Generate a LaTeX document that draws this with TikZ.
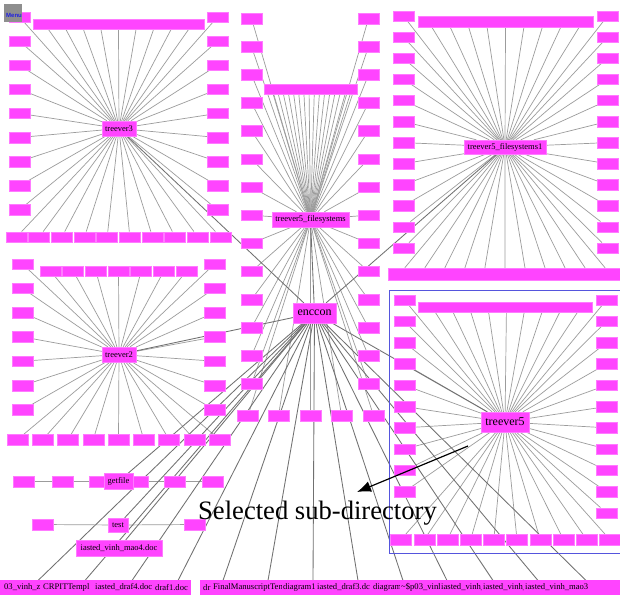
\documentclass[tikz,border=0pt]{standalone}
\usepackage{fontspec}
\setmainfont{Liberation Serif}
\newfontfamily\menufont{Liberation Sans}
\usetikzlibrary{calc,backgrounds,arrows.meta}
\definecolor{pk}{HTML}{FF44FF}
\definecolor{pkedge}{HTML}{FF7BFF}
\definecolor{ln}{HTML}{9C9C9C}
\definecolor{lnd}{HTML}{707070}
\definecolor{menugray}{HTML}{8E8E8E}
\definecolor{menublue}{HTML}{2020E0}
\definecolor{selblue}{HTML}{5555DD}
\tikzset{
  leaf/.style={fill=pk, draw=pkedge, line width=0.4pt, minimum width=21pt, minimum height=10.5pt, inner sep=0pt},
  pinkbar/.style={fill=pk, draw=pkedge, line width=0.4pt, inner sep=0pt},
  hub/.style={fill=pk, draw=pkedge, line width=0.4pt, inner sep=0pt, text=black, font=\fontsize{8.5}{9}\selectfont},
  bighub/.style={hub, font=\fontsize{12}{13}\selectfont},
  link/.style={draw=ln, line width=0.7pt},
  toplink/.style={draw=lnd, line width=0.85pt},
  filenode/.style={fill=pk, anchor=west, inner xsep=1pt, inner ysep=0pt, minimum height=15pt, font=\fontsize{8.6}{9}\selectfont},
}
\begin{document}
\begin{tikzpicture}[x=1pt,y=-1pt]
\useasboundingbox (0,0) rectangle (620,596);

% ---------- treever3 ----------
\node[pinkbar, minimum width=171pt, minimum height=10pt] (t3bar) at (118.5,24) {};
\foreach \k in {0,...,8} {
  \node[leaf] (t3L\k) at (19.5,{17+24.1*\k}) {};
  \node[leaf] (t3R\k) at (217.5,{17+24.1*\k}) {};
}
\foreach \k in {0,...,9} \node[leaf] (t3B\k) at ({16.5+22.67*\k},237) {};
\node[hub, minimum width=34pt, minimum height=15pt] (t3) at (119,128.5) {treever3};

% ---------- treever2 ----------
\foreach \k in {0,...,6} {
  \node[leaf] (t2L\k) at (22.5,{264+24.3*\k}) {};
  \node[leaf] (t2R\k) at (214.5,{264+24.3*\k}) {};
  \node[leaf] (t2T\k) at ({50.5+22.67*\k},271) {};
}
\foreach \k in {0,...,8} \node[leaf] (t2B\k) at ({17.5+25.25*\k},439.5) {};
\node[hub, minimum width=34pt, minimum height=15pt] (t2) at (119,354.5) {treever2};

% ---------- treever5_filesystems ----------
\node[pinkbar, minimum width=93pt, minimum height=10pt] (tfbar) at (310.5,89) {};
\foreach \k in {0,...,13} {
  \node[leaf] (tfL\k) at (251.5,{18.5+28.1*\k}) {};
  \node[leaf] (tfR\k) at (368.5,{18.5+28.1*\k}) {};
}
\foreach \x [count=\k] in {248,278.5,310.5,341.5,373.5} \node[leaf] (tfB\k) at (\x,415.5) {};
\node[hub, minimum width=77pt, minimum height=15pt] (tf) at (310.5,219.5) {treever5\_filesystems};

% ---------- treever5_filesystems1 ----------
\node[pinkbar, minimum width=175pt, minimum height=11pt] (tf1top) at (505.5,21.5) {};
\node[pinkbar, minimum width=232pt, minimum height=12pt] (tf1bot) at (504,274) {};
\foreach \k in {0,...,11} {
  \node[leaf] (tf1L\k) at (403.5,{16+21.1*\k}) {};
  \node[leaf] (tf1R\k) at (607.5,{16+21.1*\k}) {};
}
\node[hub, minimum width=82pt, minimum height=14pt] (tf1) at (505,147) {treever5\_filesystems1};

% ---------- treever5 (selected) ----------
\draw[selblue, line width=0.8pt] (389.5,290.5) rectangle (621,553);
\node[pinkbar, minimum width=174pt, minimum height=10pt] (t5bar) at (505,307) {};
\foreach \k in {0,...,9} \node[leaf] (t5L\k) at (404.5,{300+21.3*\k}) {};
\foreach \k in {0,...,10} \node[leaf] (t5R\k) at (606.5,{300+21.3*\k}) {};
\foreach \k in {0,...,9} \node[leaf] (t5B\k) at ({401+23.2*\k},539.5) {};
\node[bighub, minimum width=48pt, minimum height=20pt] (t5) at (505,422) {treever5};

% ---------- enccon ----------
\node[bighub, minimum width=43pt, minimum height=20pt] (enc) at (314.5,313) {enccon};

% ---------- getfile / test / mao4 ----------
\foreach \x [count=\k] in {24,62.5,99.5,137.5,174.5,212.5} \node[leaf] (gfB\k) at (\x,481.5) {};
\node[hub, minimum width=29pt, minimum height=16pt] (gf) at (118.5,481.5) {getfile};
\node[leaf] (tsB1) at (42.5,524.5) {};
\node[leaf] (tsB2) at (194.5,524.5) {};
\node[hub, minimum width=20pt, minimum height=14pt] (ts) at (118,525) {test};
\node[hub, minimum width=86pt, minimum height=16pt] (m4) at (119,548) {iasted\_vinh\_mao4.doc};

% ---------- file row ----------
\node[fill=pk, inner sep=0pt, minimum width=192pt, minimum height=15pt] (fbL) at (95,587.5) {};
\node[fill=pk, inner sep=0pt, minimum width=421pt, minimum height=15pt] (fbR) at (410.5,587.5) {};
\node[filenode] (fl1) at (3,587.5) {03\_vinh\_z};
\node[filenode] (fl2) at (42,587.5) {CRPITTempl};
\node[filenode] (fl3) at (94,587.5) {iasted\_draf4.doc};
\node[filenode] (fl4) at (154,587.5) {draf1.doc};
\node[filenode] (fr1) at (202,587.5) {dr};
\node[filenode] (fr2) at (212,587.5) {FinalManuscriptTen};
\node[filenode] (fr3) at (282,587.5) {diagram1.d};
\node[filenode] (fr4) at (316,587.5) {iasted\_draf3.dc};
\node[filenode] (fr5) at (372,587.5) {diagram};
\node[filenode] (fr6) at (400,587.5) {\textasciitilde\$p03\_vinh};
\node[filenode] (fr7) at (440,587.5) {iasted\_vinh\_};
\node[filenode] (fr8) at (482,587.5) {iasted\_vinh\_};
\node[filenode] (fr9) at (524,587.5) {iasted\_vinh\_mao3};
\foreach \x [count=\i] in {38,85,132,178} \coordinate (fL\i) at (\x,580.5);
\foreach \x [count=\i] in {223,268,313,358,403,447,493,538,586} \coordinate (fR\i) at (\x,580.5);

% ---------- menu ----------
\node[fill=menugray, minimum size=18pt, inner sep=0pt] (menu) at (13,13) {};
\node[inner sep=0pt, text=menublue, font={\menufont\fontsize{6}{6}\selectfont\bfseries}] (menutxt) at (14,15.5) {Menu};

% ---------- annotation ----------
\node[anchor=base west, inner sep=0pt, font=\fontsize{26.6}{28}\selectfont] (sel) at (198,519) {Selected sub-directory};
\coordinate (arrS) at (468,446);
\coordinate (arrE) at (357,492);
\draw[-{Latex[length=14pt,width=11pt]}, line width=1.2pt] (arrS) -- (arrE);

% ---------- connectors ----------
\begin{scope}[on background layer]
\fill[white] (0,0) rectangle (620,596);
% treever3
\foreach \k in {0,...,8} {\draw[link] (t3) -- (t3L\k); \draw[link] (t3) -- (t3R\k);}
\foreach \k in {0,...,9} \draw[link] (t3) -- (t3B\k);
\foreach \k [evaluate=\k as \f using 0.09+0.1025*\k] in {0,...,8}
  \draw[link] (t3.center) -- ($(t3bar.south west)!\f!(t3bar.south east)$);
% treever2
\foreach \k in {0,...,6} {\draw[link] (t2) -- (t2L\k); \draw[link] (t2) -- (t2R\k); \draw[link] (t2) -- (t2T\k);}
\foreach \k in {0,...,8} \draw[link] (t2) -- (t2B\k);
% treever5_filesystems
\foreach \k in {0,...,13} {\draw[link] (tf) -- (tfL\k); \draw[link] (tf) -- (tfR\k);}
\foreach \k in {1,...,5} \draw[link] (tf) -- (tfB\k);
\foreach \k [evaluate=\k as \f using 0.1+0.055*\k] in {0,...,15}
  \draw[link] (tf.center) -- ($(tfbar.south west)!\f!(tfbar.south east)$);
% treever5_filesystems1
\foreach \k in {0,...,11} {\draw[link] (tf1) -- (tf1L\k); \draw[link] (tf1) -- (tf1R\k);}
\foreach \k [evaluate=\k as \f using 0.08+0.105*\k] in {0,...,8}
  \draw[link] (tf1.center) -- ($(tf1top.south west)!\f!(tf1top.south east)$);
\foreach \k [evaluate=\k as \f using 0.073+0.0862*\k] in {0,...,10}
  \draw[link] (tf1.center) -- ($(tf1bot.north west)!\f!(tf1bot.north east)$);
% treever5
\foreach \k in {0,...,9} \draw[link] (t5) -- (t5L\k);
\foreach \k in {0,...,10} \draw[link] (t5) -- (t5R\k);
\foreach \k in {0,...,9} \draw[link] (t5) -- (t5B\k);
\foreach \k [evaluate=\k as \f using 0.1+0.102*\k] in {0,...,8}
  \draw[link] (t5.center) -- ($(t5bar.south west)!\f!(t5bar.south east)$);
% getfile, test
\foreach \k in {1,...,6} \draw[link] (gf) -- (gfB\k);
\draw[link] (ts) -- (tsB1);
\draw[link] (ts) -- (tsB2);
% enccon (root)
\foreach \n in {t3,t2,tf,tf1,t5,gf,ts,m4} \draw[toplink] (enc) -- (\n);
\foreach \i in {1,...,4} \draw[toplink] (enc) -- (fL\i);
\foreach \i in {1,...,9} \draw[toplink] (enc) -- (fR\i);
\end{scope}
\end{tikzpicture}
\end{document}
